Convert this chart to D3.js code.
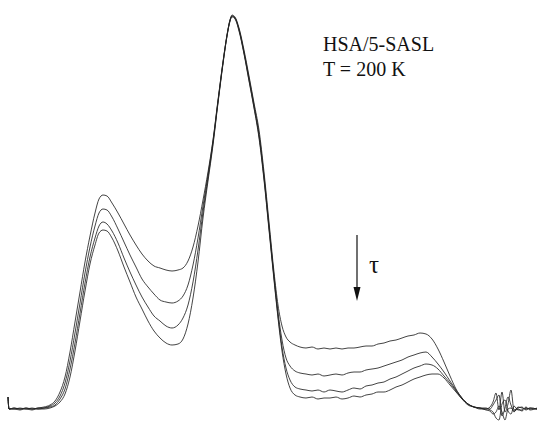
<!DOCTYPE html>
<html>
<head>
<meta charset="utf-8">
<script src="https://cdn.jsdelivr.net/npm/d3@7"></script>
<style>
  html, body { margin: 0; padding: 0; background: #fff; }
  svg { display: block; }
  .serif { font-family: "Liberation Serif", "Times New Roman", serif; }
</style>
</head>
<body>
<svg id="chart" width="539" height="423"></svg>
<script>
// Magnetic field (arbitrary units)
const field = [0,0.2,1.2,2.4,3.6,4.8,6,7.2,8.4,9.4,10.4,11.4,12.4,13.4,14.4,15.4,16.4,17.4,18.2,19,19.8,20.8,22,23.2,24.4,25.6,26.8,28,29.2,30.4,31.6,32.8,34,35,36,37,38,39,40,41,42,43,43.8,44.4,44.8,45.4,46.2,47.2,48.2,49.2,50.2,51.2,52.2,53.2,54,54.8,55.6,56.4,57.4,58.4,59.6,60.8,62,63.2,64.4,65.6,66.8,68,69.2,70.4,71.6,72.8,74,75.2,76.4,77.6,78.8,80,81.2,82.4,83.6,84.8,86,87.2,88.4,89.6,90.8,92,93.2,94.4,95.6,96.4,97,97.6,98.2,98.8,99.4,100,100.6,101.2,102,102.8,103.6,104.4,105.8];

// Spectral intensity (arbitrary units), four delay times tau (increasing)
const tau1 = [12,0,1,0,1,0,1,2,4,8,17,32,57,87,117,147,173,196,210,214,213,206,196,185,174,164,155,148,143,141,139,138,139,141,148,162,183,209,237,269,309,347,374,389,394,392,381,359,333,306,279,237,187,137,104,83,72,67,64,62,61,62,60,61,60,61,60,61,61,62,63,63,65,66,68,69,71,73,74,76,75,70,60,47,33,20,11,5,2,1,0,2,7,16,-1,17,-3,5,19,-1,1,2,-1,1,0];
const tau2 = [12,0,0,1,0,1,0,1,3,6,13,26,48,76,106,136,162,183,196,200,199,192,180,167,154,142,130,122,115,109,107,106,108,113,124,144,171,203,234,268,308,347,374,389,393,391,380,357,331,304,275,233,183,133,97,69,51,43,38,36,35,34,35,33,34,35,34,36,37,37,39,40,41,43,45,47,49,52,54,56,57,52,45,37,28,19,11,5,2,1,1,-1,-3,-9,-11,5,9,-2,-5,3,-1,-1,2,-1,1];
const tau3 = [12,0,1,0,0,-1,1,1,2,4,10,20,40,66,96,126,152,171,183,187,185,178,166,151,137,124,112,102,93,88,83,81,84,91,104,127,159,197,231,266,307,346,373,388,393,391,379,356,329,302,273,231,181,131,93,62,41,29,22,20,19,18,19,17,19,18,17,19,21,20,23,24,26,27,30,32,35,38,41,43,45,44,40,33,26,18,10,5,2,0,0,0,4,9,14,-7,1,12,4,-3,2,1,0,1,0];
const tau4 = [12,0,0,-1,1,0,0,0,1,3,7,15,32,58,88,118,145,164,176,179,178,171,158,142,127,112,100,88,78,71,66,64,65,70,85,111,147,191,228,264,306,345,373,388,392,390,378,355,328,301,271,229,179,129,91,58,35,21,14,12,11,12,10,11,11,12,10,11,13,12,14,15,17,17,19,22,24,27,30,32,34,35,35,31,24,17,10,4,2,1,-1,-2,-5,-3,3,-3,-11,0,1,-2,0,-2,1,0,0];

const spectra = [tau1, tau2, tau3, tau4];

const labelLines = ["HSA/5-SASL", "T = 200 K"];
const arrowLabel = "τ";

const svg = d3.select("#chart");

const x = d3.scaleLinear().domain([0, 106]).range([8, 538]);
const y = d3.scaleLinear().domain([0, 400]).range([409, 9]);

const line = d3.line()
  .x((d, i) => x(field[i]))
  .y(d => y(d))
  .curve(d3.curveMonotoneX);

svg.append("g")
  .selectAll("path")
  .data(spectra)
  .join("path")
  .attr("d", d => line(d))
  .attr("fill", "none")
  .attr("stroke", "#222")
  .attr("stroke-width", 0.85)
  .attr("stroke-linejoin", "round");

// Sample / temperature label
const lab = svg.append("text")
  .attr("class", "serif")
  .attr("font-size", 20)
  .attr("fill", "#111");
lab.selectAll("tspan")
  .data(labelLines)
  .join("tspan")
  .attr("x", 323)
  .attr("y", (d, i) => 51 + i * 25)
  .text(d => d);

// Arrow indicating increasing tau
svg.append("line")
  .attr("x1", 357).attr("x2", 357)
  .attr("y1", 235).attr("y2", 290)
  .attr("stroke", "#111").attr("stroke-width", 1.2);
svg.append("path")
  .attr("d", "M353.5,287 L360.5,287 L357,301 Z")
  .attr("fill", "#111");
svg.append("text")
  .attr("class", "serif")
  .attr("x", 369)
  .attr("y", 273)
  .attr("font-size", 25)
  .attr("fill", "#111")
  .text(arrowLabel);
</script>
</body>
</html>
